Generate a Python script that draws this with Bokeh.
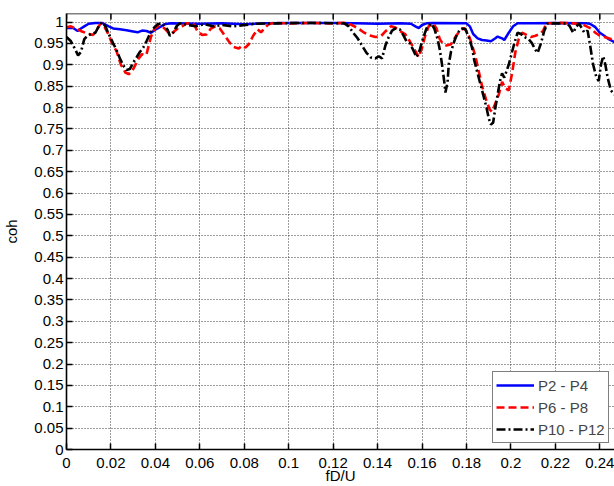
from bokeh.plotting import figure
from bokeh.models import FixedTicker, Range1d, Legend, LegendItem, Span, ColumnDataSource
from bokeh.embed import file_html
from bokeh.resources import INLINE

# ---------------- data ----------------
x_ticks = [0, 0.02, 0.04, 0.06, 0.08, 0.1, 0.12, 0.14, 0.16, 0.18, 0.2, 0.22, 0.24]
x_tick_labels = ["0", "0.02", "0.04", "0.06", "0.08", "0.1", "0.12", "0.14", "0.16",
                 "0.18", "0.2", "0.22", "0.24"]
y_ticks = [0, 0.05, 0.1, 0.15, 0.2, 0.25, 0.3, 0.35, 0.4, 0.45, 0.5, 0.55, 0.6, 0.65,
           0.7, 0.75, 0.8, 0.85, 0.9, 0.95, 1.0]
y_tick_labels = ["0", "0.05", "0.1", "0.15", "0.2", "0.25", "0.3", "0.35", "0.4", "0.45",
                 "0.5", "0.55", "0.6", "0.65", "0.7", "0.75", "0.8", "0.85", "0.9", "0.95", "1"]

series_names = ["P2 - P4", "P6 - P8", "P10 - P12"]

p2p4_f = [0.000, 0.003, 0.005, 0.0065, 0.008, 0.010, 0.013, 0.016, 0.019, 0.021, 0.024,
          0.027, 0.030, 0.032, 0.034, 0.036, 0.038, 0.040, 0.042, 0.044, 0.047, 0.060,
          0.070, 0.080, 0.090, 0.100, 0.110, 0.120, 0.130, 0.140, 0.150, 0.155, 0.157,
          0.1585, 0.160, 0.162, 0.165, 0.180, 0.1815, 0.183, 0.185, 0.187, 0.189, 0.191,
          0.193, 0.194, 0.196, 0.197, 0.199, 0.201, 0.203, 0.210, 0.220, 0.234, 0.2355,
          0.238, 0.240, 0.242, 0.244, 0.2466]
p2p4_coh = [0.986, 0.986, 0.979, 0.985, 0.990, 0.996, 0.998, 0.998, 0.990, 0.985, 0.983,
            0.981, 0.978, 0.976, 0.980, 0.979, 0.975, 0.982, 0.988, 0.995, 0.997, 0.996,
            0.997, 0.995, 0.997, 0.998, 0.998, 0.998, 0.997, 0.996, 0.997, 0.996, 0.990,
            0.986, 0.993, 0.997, 0.998, 0.997, 0.990, 0.972, 0.962, 0.958, 0.957, 0.955,
            0.962, 0.966, 0.962, 0.958, 0.975, 0.990, 0.997, 0.997, 0.998, 0.997, 0.996,
            0.988, 0.975, 0.968, 0.960, 0.953]

p6p8_f = [0.000, 0.002, 0.004, 0.007, 0.010, 0.012, 0.014, 0.0155, 0.017, 0.019, 0.0205,
          0.0225, 0.0245, 0.0265, 0.028, 0.0295, 0.031, 0.0325, 0.034, 0.035, 0.036, 0.037,
          0.038, 0.0395, 0.041, 0.043, 0.0445, 0.0465, 0.048, 0.050, 0.052, 0.054, 0.056,
          0.0575, 0.059, 0.061, 0.063, 0.065, 0.067, 0.069, 0.071, 0.073, 0.075, 0.0775,
          0.079, 0.0805, 0.082, 0.084, 0.086, 0.0875, 0.089, 0.091, 0.093, 0.100, 0.110,
          0.118, 0.125, 0.128, 0.131, 0.134, 0.137, 0.139, 0.1415, 0.1435, 0.146, 0.148,
          0.150, 0.1525, 0.1545, 0.157, 0.1585, 0.160, 0.1615, 0.163, 0.165, 0.1665, 0.168,
          0.1695, 0.171, 0.173, 0.175, 0.177, 0.179, 0.1805, 0.182, 0.184, 0.1855, 0.187,
          0.189, 0.1905, 0.1915, 0.193, 0.1945, 0.196, 0.1975, 0.199, 0.2005, 0.202, 0.2035,
          0.205, 0.207, 0.209, 0.211, 0.213, 0.2145, 0.216, 0.222, 0.228, 0.232, 0.234,
          0.236, 0.238, 0.240, 0.242, 0.244, 0.2466]
p6p8_coh = [0.988, 0.990, 0.985, 0.978, 0.972, 0.970, 0.985, 0.998, 0.990, 0.970, 0.950,
            0.932, 0.900, 0.882, 0.878, 0.885, 0.900, 0.915, 0.925, 0.922, 0.925, 0.945,
            0.965, 0.984, 0.990, 0.990, 0.983, 0.972, 0.976, 0.985, 0.990, 0.997, 0.997,
            0.994, 0.978, 0.970, 0.971, 0.985, 0.990, 0.985, 0.970, 0.955, 0.942, 0.938,
            0.945, 0.940, 0.948, 0.968, 0.983, 0.976, 0.985, 0.995, 0.998, 0.997, 0.998,
            0.997, 0.998, 0.994, 0.986, 0.975, 0.968, 0.965, 0.967, 0.978, 0.990, 0.987,
            0.979, 0.971, 0.955, 0.932, 0.918, 0.940, 0.970, 0.990, 0.997, 0.985, 0.960,
            0.948, 0.945, 0.948, 0.965, 0.980, 0.986, 0.975, 0.955, 0.920, 0.885, 0.850,
            0.815, 0.795, 0.790, 0.810, 0.830, 0.860, 0.845, 0.840, 0.880, 0.930, 0.960,
            0.975, 0.970, 0.965, 0.968, 0.972, 0.980, 0.997, 0.998, 0.997, 0.995, 0.990,
            0.985, 0.975, 0.968, 0.965, 0.962, 0.958]

p10p12_f = [0.000, 0.002, 0.004, 0.0052, 0.0065, 0.008, 0.0095, 0.011, 0.013, 0.0145,
            0.016, 0.0175, 0.019, 0.021, 0.0225, 0.024, 0.026, 0.027, 0.0285, 0.030, 0.0315,
            0.033, 0.0345, 0.036, 0.0375, 0.039, 0.041, 0.043, 0.0455, 0.0465, 0.048, 0.0495,
            0.051, 0.058, 0.062, 0.066, 0.070, 0.075, 0.085, 0.095, 0.110, 0.125, 0.127,
            0.129, 0.131, 0.133, 0.135, 0.137, 0.139, 0.1405, 0.142, 0.1435, 0.145, 0.1465,
            0.148, 0.150, 0.1515, 0.153, 0.1545, 0.156, 0.1575, 0.159, 0.160, 0.161, 0.162,
            0.164, 0.1655, 0.167, 0.168, 0.169, 0.170, 0.1705, 0.1715, 0.172, 0.173, 0.1745,
            0.176, 0.178, 0.1795, 0.181, 0.1825, 0.1835, 0.185, 0.1865, 0.188, 0.189, 0.190,
            0.191, 0.192, 0.193, 0.194, 0.195, 0.196, 0.197, 0.198, 0.199, 0.200, 0.2015,
            0.203, 0.2045, 0.206, 0.208, 0.2095, 0.211, 0.212, 0.2135, 0.215, 0.2165, 0.225,
            0.2265, 0.228, 0.229, 0.2305, 0.232, 0.233, 0.2345, 0.2355, 0.237, 0.2385,
            0.2395, 0.2405, 0.2415, 0.2425, 0.2435, 0.245, 0.2466]
p10p12_coh = [0.965, 0.955, 0.935, 0.922, 0.930, 0.960, 0.968, 0.972, 0.975, 0.990,
              1.000, 0.990, 0.972, 0.950, 0.935, 0.915, 0.895, 0.888, 0.890, 0.905, 0.917,
              0.930, 0.940, 0.955, 0.972, 0.985, 0.995, 0.997, 0.982, 0.968, 0.975, 0.990,
              0.997, 0.990, 0.995, 0.990, 0.993, 0.990, 0.996, 0.997, 0.998, 0.997, 0.990,
              0.975, 0.962, 0.945, 0.928, 0.917, 0.915, 0.920, 0.915, 0.945, 0.965, 0.980,
              0.985, 0.983, 0.970, 0.955, 0.950, 0.935, 0.918, 0.935, 0.955, 0.970, 0.985,
              0.997, 0.985, 0.960, 0.935, 0.900, 0.860, 0.835, 0.860, 0.900, 0.930, 0.955,
              0.975, 0.985, 0.983, 0.965, 0.940, 0.910, 0.880, 0.850, 0.820, 0.800, 0.775,
              0.760, 0.765, 0.800, 0.830, 0.860, 0.880, 0.870, 0.885, 0.900, 0.920, 0.950,
              0.975, 0.972, 0.965, 0.960, 0.950, 0.935, 0.928, 0.950, 0.980, 0.997, 0.997,
              0.990, 0.975, 0.985, 0.997, 0.985, 0.975, 0.980, 0.950, 0.900, 0.870,
              0.862, 0.900, 0.920, 0.900, 0.870, 0.840, 0.830]

# ---------------- figure ----------------
FONT = "Liberation Sans"
FS = "15px"
X_MAX, Y_MAX = 0.2466, 1.02
W, H = 614, 486
BORDER_L, BORDER_T, BORDER_B = 65, 13, 35
TICK_PX = 6

p = figure(width=W, height=H, output_backend="svg", toolbar_location=None,
           x_range=Range1d(0, X_MAX), y_range=Range1d(0, Y_MAX),
           min_border_left=BORDER_L, min_border_top=BORDER_T,
           min_border_bottom=BORDER_B, min_border_right=0)
p.outline_line_color = None
p.background_fill_color = "white"
p.border_fill_color = "white"

xt = FixedTicker(ticks=x_ticks)
yt = FixedTicker(ticks=y_ticks)

for ax, tk, labs in ((p.xaxis[0], xt, x_tick_labels), (p.yaxis[0], yt, y_tick_labels)):
    ax.ticker = tk
    ax.major_label_overrides = {t: l for t, l in zip(tk.ticks, labs)}
    ax.minor_tick_line_color = None
    ax.major_tick_in = TICK_PX
    ax.major_tick_out = 0
    ax.major_tick_line_color = "black"
    ax.major_tick_line_width = 1.5
    ax.axis_line_color = "black"
    ax.axis_line_width = 1.6
    ax.major_label_text_font = FONT
    ax.major_label_text_font_size = FS
    ax.major_label_text_color = "black"
    ax.axis_label_text_font = FONT
    ax.axis_label_text_font_size = FS
    ax.axis_label_text_font_style = "normal"
    ax.axis_label_text_color = "black"

p.xaxis.axis_label = "fD/U"
p.xaxis.major_label_standoff = 8
p.xaxis.axis_label_standoff = -4
p.yaxis.axis_label = "coh"
p.yaxis.major_label_standoff = 3
p.yaxis.axis_label_standoff = 11

p.xgrid.ticker = xt
p.ygrid.ticker = yt
for g in (p.xgrid[0], p.ygrid[0]):
    g.grid_line_color = "#3a3a3a"
    g.grid_line_dash = "1 2"
    g.grid_line_width = 1

# top box edge with inward ticks (MATLAB "box on")
p.add_layout(Span(location=Y_MAX, dimension="width", line_color="black", line_width=1.6))
frame_h = H - BORDER_T - BORDER_B
tick_len = TICK_PX * Y_MAX / frame_h
top_ticks = ColumnDataSource(dict(x=x_ticks, y0=[Y_MAX] * len(x_ticks),
                                  y1=[Y_MAX - tick_len] * len(x_ticks)))
p.segment(x0="x", x1="x", y0="y0", y1="y1", source=top_ticks,
          line_color="black", line_width=1.5)

r1 = p.line(p2p4_f, p2p4_coh, line_color="#0000FF", line_width=2.5)
r2 = p.line(p6p8_f, p6p8_coh, line_color="#FF0000", line_width=2.6, line_dash="8 4")
r3 = p.line(p10p12_f, p10p12_coh, line_color="black", line_width=2.6, line_dash="9 3 2 3")

legend = Legend(items=[LegendItem(label=series_names[0], renderers=[r1]),
                       LegendItem(label=series_names[1], renderers=[r2]),
                       LegendItem(label=series_names[2], renderers=[r3])],
                location=(426, 6), border_line_color="black", border_line_width=1.2,
                background_fill_color="white", background_fill_alpha=1,
                label_text_font=FONT, label_text_font_size=FS, glyph_width=38,
                glyph_height=20, label_standoff=4, padding=3, spacing=2, margin=0,
                label_height=20)
p.add_layout(legend, "center")

open("out.html", "w").write(file_html(p, INLINE))
